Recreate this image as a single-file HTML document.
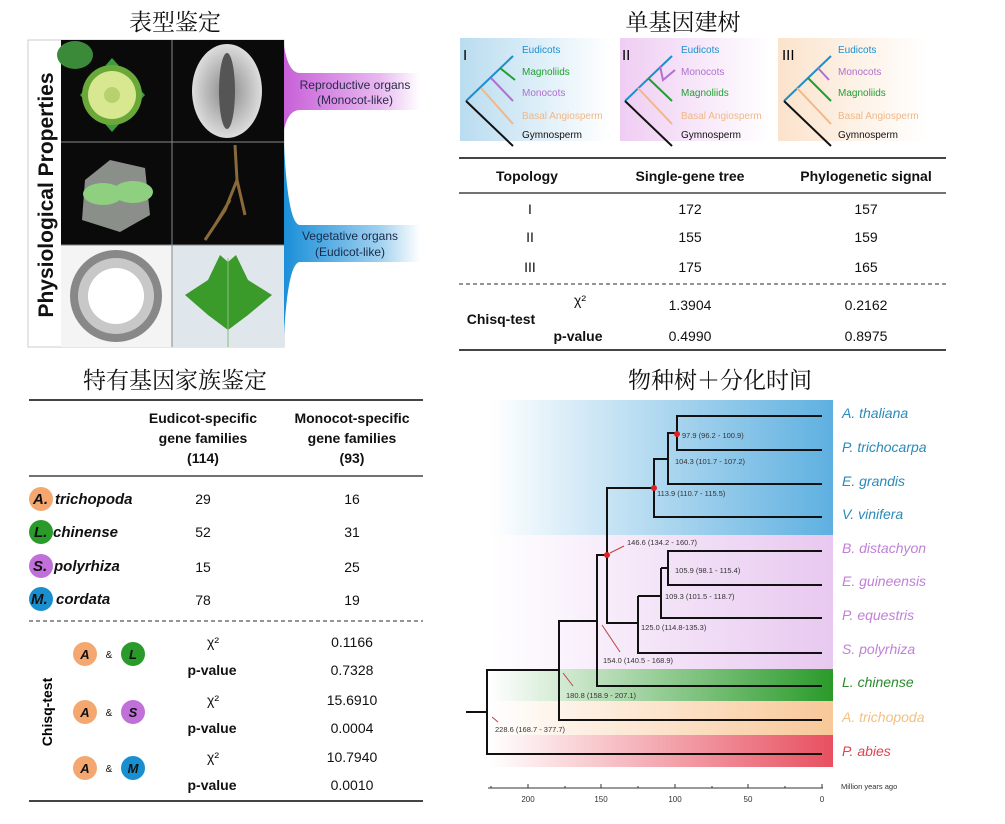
<!DOCTYPE html>
<html><head><meta charset="utf-8"><style>
html,body{margin:0;padding:0;background:#fff}
svg{display:block}
text{font-family:"Liberation Sans","Noto Sans CJK SC",sans-serif}
.cj{font-family:"Liberation Serif","Noto Serif CJK SC",serif;font-size:23px;fill:#111}
.b{font-weight:bold}
</style></head><body>
<svg width="1005" height="824" viewBox="0 0 1005 824" xmlns="http://www.w3.org/2000/svg">
<defs>
<linearGradient id="gp" x1="0" x2="1"><stop offset="0" stop-color="#c860d8"/><stop offset="0.7" stop-color="#e8b8f0"/><stop offset="1" stop-color="#fff"/></linearGradient>
<linearGradient id="gb" x1="0" x2="1"><stop offset="0" stop-color="#1a8fd8"/><stop offset="0.7" stop-color="#9fd0ef"/><stop offset="1" stop-color="#fff"/></linearGradient>
<linearGradient id="t1" x1="0" x2="1"><stop offset="0" stop-color="#b9dcf0"/><stop offset="1" stop-color="#fff"/></linearGradient>
<linearGradient id="t2" x1="0" x2="1"><stop offset="0" stop-color="#efcdf3"/><stop offset="1" stop-color="#fff"/></linearGradient>
<linearGradient id="t3" x1="0" x2="1"><stop offset="0" stop-color="#fbe3cc"/><stop offset="1" stop-color="#fff"/></linearGradient>
<linearGradient id="bb" x1="0" x2="1"><stop offset="0" stop-color="#fff"/><stop offset="1" stop-color="#5eb0e0"/></linearGradient>
<linearGradient id="bp" x1="0" x2="1"><stop offset="0" stop-color="#fff"/><stop offset="1" stop-color="#e8c8f0"/></linearGradient>
<linearGradient id="bg" x1="0" x2="1"><stop offset="0" stop-color="#fff"/><stop offset="1" stop-color="#2a9a2a"/></linearGradient>
<linearGradient id="bo" x1="0" x2="1"><stop offset="0" stop-color="#fff"/><stop offset="1" stop-color="#f8c898"/></linearGradient>
<linearGradient id="br" x1="0" x2="1"><stop offset="0" stop-color="#fff"/><stop offset="1" stop-color="#e85060"/></linearGradient>
<radialGradient id="seed"><stop offset="0" stop-color="#888"/><stop offset="1" stop-color="#ddd"/></radialGradient>
</defs>

<text x="175" y="30" text-anchor="middle" class="cj">表型鉴定</text>
<rect x="28" y="40" width="256" height="307" fill="#fff" stroke="#ccc"/>
<text transform="translate(53,195) rotate(-90)" text-anchor="middle" class="b" font-size="21" fill="#111">Physiological Properties</text>
<rect x="61" y="40" width="111" height="102" fill="#0a0a0a"/>
<rect x="172" y="40" width="112" height="102" fill="#0a0a0a"/>
<rect x="61" y="142" width="111" height="103" fill="#0a0a0a"/>
<rect x="172" y="142" width="112" height="103" fill="#0a0a0a"/>
<rect x="61" y="245" width="111" height="102" fill="#f4f4f4"/>
<rect x="172" y="245" width="112" height="102" fill="#dfe6ec"/>
<line x1="172" y1="40" x2="172" y2="347" stroke="#888"/><line x1="61" y1="142" x2="284" y2="142" stroke="#888"/><line x1="61" y1="245" x2="284" y2="245" stroke="#888"/>
<ellipse cx="75" cy="55" rx="18" ry="14" fill="#3a8a3a"/>
<path d="M80 95 L112 58 L145 95 L112 132 Z" fill="#3e9a3e"/>
<circle cx="112" cy="95" r="30" fill="#6aa83a"/><circle cx="112" cy="95" r="24" fill="#d8e890"/><circle cx="112" cy="95" r="8" fill="#b8d070"/>
<ellipse cx="227" cy="91" rx="35" ry="47" fill="url(#seed)"/><ellipse cx="227" cy="91" rx="8" ry="38" fill="#555"/>
<path d="M85 180 L110 160 L145 168 L150 215 L120 232 L82 220 Z" fill="#8a8f8a"/>
<ellipse cx="103" cy="194" rx="20" ry="11" fill="#8fd080"/><ellipse cx="133" cy="192" rx="20" ry="11" fill="#8fd080"/>
<path d="M235 145 L237 180 L225 210 L205 240 M237 180 L245 215 M230 200 L215 225" stroke="#8a6a3a" stroke-width="3" fill="none"/>
<circle cx="116" cy="296" r="46" fill="#888"/><circle cx="116" cy="296" r="38" fill="#c8c8c8"/><circle cx="116" cy="296" r="28" fill="#fff"/>
<path d="M185 295 L208 280 L220 255 L228 262 L236 255 L248 280 L272 295 L248 315 L228 330 L208 315 Z" fill="#3a9a2a"/>
<line x1="228" y1="258" x2="228" y2="347" stroke="#8ac07a"/>
<path d="M284 45 Q288 73 300 73 L420 73 L420 110 L300 110 Q288 110 284 130 Z" fill="url(#gp)"/>
<text x="355" y="89" text-anchor="middle" font-size="12" fill="#2a2a4a">Reproductive organs</text>
<text x="355" y="104" text-anchor="middle" font-size="12" fill="#2a2a4a">(Monocot-like)</text>
<path d="M284 145 Q288 225 300 225 L420 225 L420 262 L300 262 Q288 262 284 335 Z" fill="url(#gb)"/>
<text x="350" y="240" text-anchor="middle" font-size="12" fill="#1a2a4a">Vegetative organs</text>
<text x="350" y="256" text-anchor="middle" font-size="12" fill="#1a2a4a">(Eudicot-like)</text>

<text x="683" y="30" text-anchor="middle" class="cj">单基因建树</text>
<rect x="460" y="38" width="150" height="103" fill="url(#t1)"/>
<rect x="620" y="38" width="150" height="103" fill="url(#t2)"/>
<rect x="778" y="38" width="150" height="103" fill="url(#t3)"/>
<g font-size="10">
<text x="463" y="60" font-size="15">I</text>
<g stroke-width="2" fill="none">
<path d="M466 101 L513 56" stroke="#1a8fd0"/><path d="M500 68 L515 80" stroke="#1fa030"/><path d="M491 78 L513 101" stroke="#b070d0"/><path d="M481 88 L513 124" stroke="#f0b888"/><path d="M466 101 L513 146" stroke="#111"/>
</g>
<text x="522" y="53" fill="#1a8fd0">Eudicots</text><text x="522" y="75" fill="#1fa030">Magnoliids</text><text x="522" y="96" fill="#b070d0">Monocots</text><text x="522" y="119" fill="#f0b888">Basal Angiosperm</text><text x="522" y="138" fill="#111">Gymnosperm</text>
<text x="622" y="60" font-size="15">II</text>
<g stroke-width="2" fill="none">
<path d="M625 101 L672 56" stroke="#1a8fd0"/><path d="M660 66 L663 80 L675 70" stroke="#b070d0"/><path d="M648 78 L672 101" stroke="#1fa030"/><path d="M638 88 L672 124" stroke="#f0b888"/><path d="M625 101 L672 146" stroke="#111"/>
</g>
<text x="681" y="53" fill="#1a8fd0">Eudicots</text><text x="681" y="75" fill="#b070d0">Monocots</text><text x="681" y="96" fill="#1fa030">Magnoliids</text><text x="681" y="119" fill="#f0b888">Basal Angiosperm</text><text x="681" y="138" fill="#111">Gymnosperm</text>
<text x="782" y="60" font-size="15">III</text>
<g stroke-width="2" fill="none">
<path d="M784 101 L831 56" stroke="#1a8fd0"/><path d="M818 68 L829 80" stroke="#b070d0"/><path d="M808 78 L831 101" stroke="#1fa030"/><path d="M797 88 L831 124" stroke="#f0b888"/><path d="M784 101 L831 146" stroke="#111"/>
</g>
<text x="838" y="53" fill="#1a8fd0">Eudicots</text><text x="838" y="75" fill="#b070d0">Monocots</text><text x="838" y="96" fill="#1fa030">Magnoliids</text><text x="838" y="119" fill="#f0b888">Basal Angiosperm</text><text x="838" y="138" fill="#111">Gymnosperm</text>
</g>
<g stroke="#444" stroke-width="2"><line x1="459" y1="158" x2="946" y2="158"/><line x1="459" y1="193" x2="946" y2="193" stroke-width="1.5"/><line x1="459" y1="350" x2="946" y2="350"/></g>
<line x1="459" y1="284" x2="946" y2="284" stroke="#555" stroke-width="1.2" stroke-dasharray="4,3"/>
<g font-size="14" text-anchor="middle" fill="#111">
<text x="527" y="181" class="b">Topology</text><text x="690" y="181" class="b">Single-gene tree</text><text x="866" y="181" class="b">Phylogenetic signal</text>
<text x="530" y="214">I</text><text x="690" y="214">172</text><text x="866" y="214">157</text>
<text x="530" y="242">II</text><text x="690" y="242">155</text><text x="866" y="242">159</text>
<text x="530" y="272">III</text><text x="690" y="272">175</text><text x="866" y="272">165</text>
<text x="580" y="305">χ²</text><text x="690" y="310">1.3904</text><text x="866" y="310">0.2162</text>
<text x="501" y="324" class="b">Chisq-test</text>
<text x="578" y="341" class="b">p-value</text><text x="690" y="341">0.4990</text><text x="866" y="341">0.8975</text>
</g>

<text x="175" y="388" text-anchor="middle" class="cj">特有基因家族鉴定</text>
<g stroke="#444" stroke-width="2"><line x1="29" y1="400" x2="423" y2="400"/><line x1="29" y1="476" x2="423" y2="476" stroke-width="1.5"/><line x1="29" y1="801" x2="423" y2="801"/></g>
<line x1="29" y1="621" x2="423" y2="621" stroke="#555" stroke-width="1.2" stroke-dasharray="4,3"/>
<g font-size="14" text-anchor="middle" fill="#111">
<text x="203" y="423" class="b">Eudicot-specific</text><text x="203" y="443" class="b">gene families</text><text x="203" y="463" class="b">(114)</text>
<text x="352" y="423" class="b">Monocot-specific</text><text x="352" y="443" class="b">gene families</text><text x="352" y="463" class="b">(93)</text>
<text x="203" y="504">29</text><text x="352" y="504">16</text>
<text x="203" y="537">52</text><text x="352" y="537">31</text>
<text x="203" y="572">15</text><text x="352" y="572">25</text>
<text x="203" y="605">78</text><text x="352" y="605">19</text>
<text x="213" y="647">χ²</text><text x="352" y="647">0.1166</text>
<text x="212" y="675" class="b">p-value</text><text x="352" y="675">0.7328</text>
<text x="213" y="705">χ²</text><text x="352" y="705">15.6910</text>
<text x="212" y="733" class="b">p-value</text><text x="352" y="733">0.0004</text>
<text x="213" y="762">χ²</text><text x="352" y="762">10.7940</text>
<text x="212" y="790" class="b">p-value</text><text x="352" y="790">0.0010</text>
</g>
<g font-size="15" font-weight="bold" font-style="italic" fill="#111">
<circle cx="41" cy="499" r="12" fill="#f4a870"/><text x="33" y="504">A.</text><text x="55" y="504">trichopoda</text>
<circle cx="41" cy="532" r="12" fill="#2a9a2a"/><text x="34" y="537">L.</text><text x="53" y="537">chinense</text>
<circle cx="41" cy="566" r="12" fill="#c070d8"/><text x="33" y="571">S.</text><text x="54" y="571">polyrhiza</text>
<circle cx="41" cy="599" r="12" fill="#1a8fd0"/><text x="31" y="604">M.</text><text x="56" y="604">cordata</text>
</g>
<text transform="translate(52,712) rotate(-90)" text-anchor="middle" class="b" font-size="14">Chisq-test</text>
<g font-size="13" font-weight="bold" font-style="italic" text-anchor="middle" fill="#111">
<circle cx="85" cy="654" r="12" fill="#f4a870"/><text x="85" y="659">A</text><text x="109" y="658" font-size="10" font-style="normal" font-weight="normal">&amp;</text><circle cx="133" cy="654" r="12" fill="#2a9a2a"/><text x="133" y="659">L</text>
<circle cx="85" cy="712" r="12" fill="#f4a870"/><text x="85" y="717">A</text><text x="109" y="716" font-size="10" font-style="normal" font-weight="normal">&amp;</text><circle cx="133" cy="712" r="12" fill="#c070d8"/><text x="133" y="717">S</text>
<circle cx="85" cy="768" r="12" fill="#f4a870"/><text x="85" y="773">A</text><text x="109" y="772" font-size="10" font-style="normal" font-weight="normal">&amp;</text><circle cx="133" cy="768" r="12" fill="#1a8fd0"/><text x="133" y="773">M</text>
</g>

<text x="720" y="388" text-anchor="middle" class="cj">物种树＋分化时间</text>
<rect x="490" y="400" width="343" height="135" fill="url(#bb)"/>
<rect x="490" y="535" width="343" height="134" fill="url(#bp)"/>
<rect x="490" y="669" width="343" height="32" fill="url(#bg)"/>
<rect x="490" y="701" width="343" height="34" fill="url(#bo)"/>
<rect x="490" y="735" width="343" height="32" fill="url(#br)"/>
<g stroke="#111" stroke-width="2" fill="none">
<path d="M822 416 H677 V450 H822"/>
<path d="M677 433 H668 V484 H822"/>
<path d="M668 459 H654 V517 H822"/>
<path d="M654 488 H607 V623 H638"/>
<path d="M638 596 V653 H822"/>
<path d="M638 596 H661 V618 H822"/>
<path d="M661 568 H668 V551 H822 M668 568 V585 H822 M661 568 V596"/>
<path d="M607 555 H597 V686 H822"/>
<path d="M597 621 H559 V720 H822"/>
<path d="M559 670 H487 V754 H822"/>
<path d="M466 712 H487"/>
</g>
<g fill="#e02020"><circle cx="677" cy="434" r="3"/><circle cx="654" cy="488" r="3"/><circle cx="607" cy="555" r="3"/></g>
<g stroke="#c04040" stroke-width="1"><line x1="610" y1="553" x2="624" y2="546"/><line x1="602" y1="625" x2="620" y2="652"/><line x1="563" y1="673" x2="573" y2="686"/><line x1="492" y1="717" x2="498" y2="722"/></g>
<g font-size="7.5" fill="#333">
<text x="682" y="438">97.9 (96.2 - 100.9)</text>
<text x="675" y="464">104.3 (101.7 - 107.2)</text>
<text x="657" y="496">113.9 (110.7 - 115.5)</text>
<text x="627" y="545">146.6 (134.2 - 160.7)</text>
<text x="675" y="573">105.9 (98.1 - 115.4)</text>
<text x="665" y="599">109.3 (101.5 - 118.7)</text>
<text x="641" y="630">125.0 (114.8-135.3)</text>
<text x="603" y="663">154.0 (140.5 - 168.9)</text>
<text x="566" y="698">180.8 (158.9 - 207.1)</text>
<text x="495" y="732">228.6 (168.7 - 377.7)</text>
</g>
<g font-size="14" font-style="italic">
<text x="842" y="418" fill="#2a8ab8">A. thaliana</text>
<text x="842" y="452" fill="#2a8ab8">P. trichocarpa</text>
<text x="842" y="486" fill="#2a8ab8">E. grandis</text>
<text x="842" y="519" fill="#2a8ab8">V. vinifera</text>
<text x="842" y="553" fill="#c080d8">B. distachyon</text>
<text x="842" y="586" fill="#c080d8">E. guineensis</text>
<text x="842" y="620" fill="#c080d8">P. equestris</text>
<text x="842" y="654" fill="#c080d8">S. polyrhiza</text>
<text x="842" y="687" fill="#2a8a2a">L. chinense</text>
<text x="842" y="722" fill="#f4c080">A. trichopoda</text>
<text x="842" y="756" fill="#e04050">P. abies</text>
</g>
<g stroke="#333" stroke-width="1">
<line x1="488" y1="788" x2="823" y2="788"/>
<path d="M822 784 V788 M785 786 V788 M748 784 V788 M712 786 V788 M675 784 V788 M638 786 V788 M601 784 V788 M565 786 V788 M528 784 V788 M491 786 V788"/>
</g>
<g font-size="8" fill="#333" text-anchor="middle">
<text x="528" y="802">200</text><text x="601" y="802">150</text><text x="675" y="802">100</text><text x="748" y="802">50</text><text x="822" y="802">0</text>
</g>
<text x="841" y="789" font-size="7.5" fill="#333">Million years ago</text>
</svg>
</body></html>
